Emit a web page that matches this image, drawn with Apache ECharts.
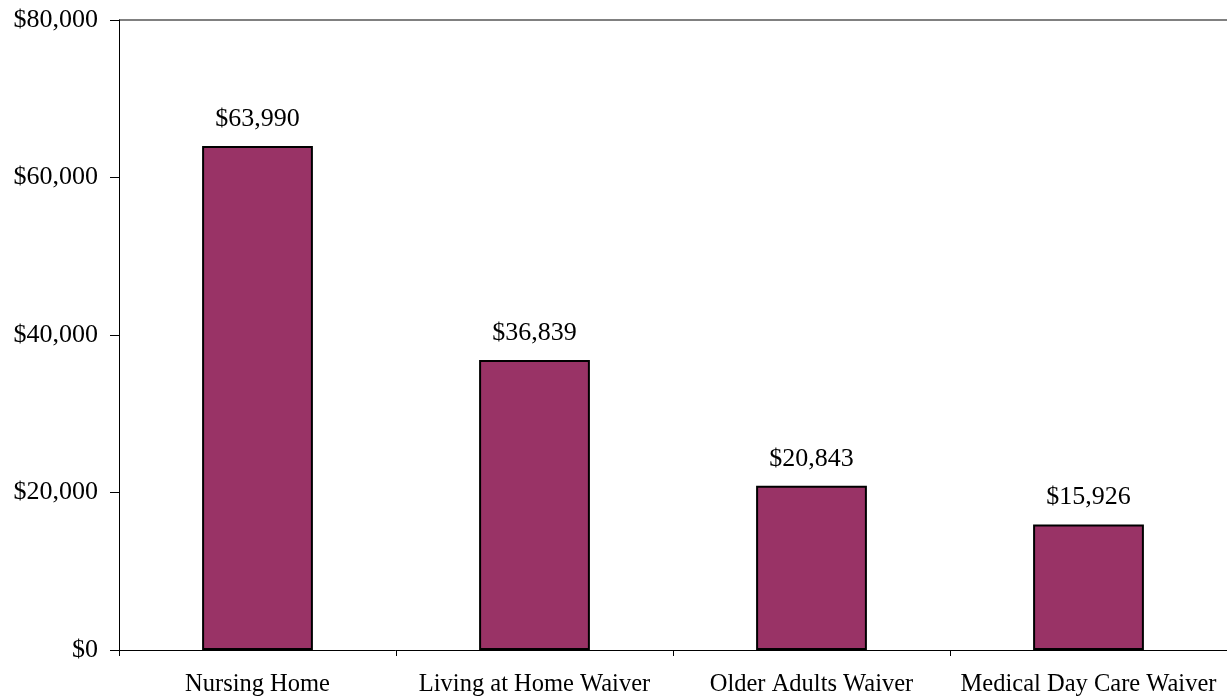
<!DOCTYPE html>
<html><head><meta charset="utf-8">
<script src="https://cdn.jsdelivr.net/npm/echarts@6/dist/echarts.min.js"></script>
<style>html,body{margin:0;padding:0;background:#fff}#c{width:1227px;height:698px}</style>
</head><body><div id="c"></div>
<script>
const categories = ['Nursing Home', 'Living at Home Waiver', 'Older Adults Waiver', 'Medical Day Care Waiver'];
const costs = [63990, 36839, 20843, 15926];
const yTicks = [0, 20000, 40000, 60000, 80000];

const fmt = v => '$' + v.toLocaleString('en-US');
const font = '"Liberation Serif", "Times New Roman", serif';
const chart = echarts.init(document.getElementById('c'));
chart.setOption({
  animation: false,
  backgroundColor: '#fff',
  grid: { left: 119, right: 0, top: 20, bottom: 48, containLabel: false },
  xAxis: {
    type: 'category',
    data: categories,
    axisLine: { lineStyle: { color: '#000', width: 1 } },
    axisTick: { show: true, interval: 0, alignWithLabel: false, length: 6, lineStyle: { color: '#000' } },
    axisLabel: { interval: 0, hideOverlap: false, color: '#000', fontFamily: font, fontSize: 24.5, margin: 22 }
  },
  yAxis: {
    type: 'value',
    min: yTicks[0], max: yTicks[yTicks.length - 1], interval: 20000,
    axisLine: { show: true, lineStyle: { color: '#000', width: 1 } },
    axisTick: { show: true, inside: false, length: 9, lineStyle: { color: '#000' } },
    axisLabel: { color: '#000', fontFamily: font, fontSize: 26, margin: 21, formatter: v => fmt(v) },
    splitLine: { show: true, lineStyle: { color: ['rgba(0,0,0,0)', 'rgba(0,0,0,0)', 'rgba(0,0,0,0)', 'rgba(0,0,0,0)', '#808080'], width: 2 } }
  },
  series: [{
    type: 'bar',
    data: costs,
    barWidth: '40%',
    itemStyle: { color: '#993366', borderColor: '#000', borderWidth: 2 },
    label: { show: true, position: 'top', distance: 14, color: '#000', fontFamily: font, fontSize: 26, formatter: p => fmt(p.value) }
  }]
});
</script></body></html>
